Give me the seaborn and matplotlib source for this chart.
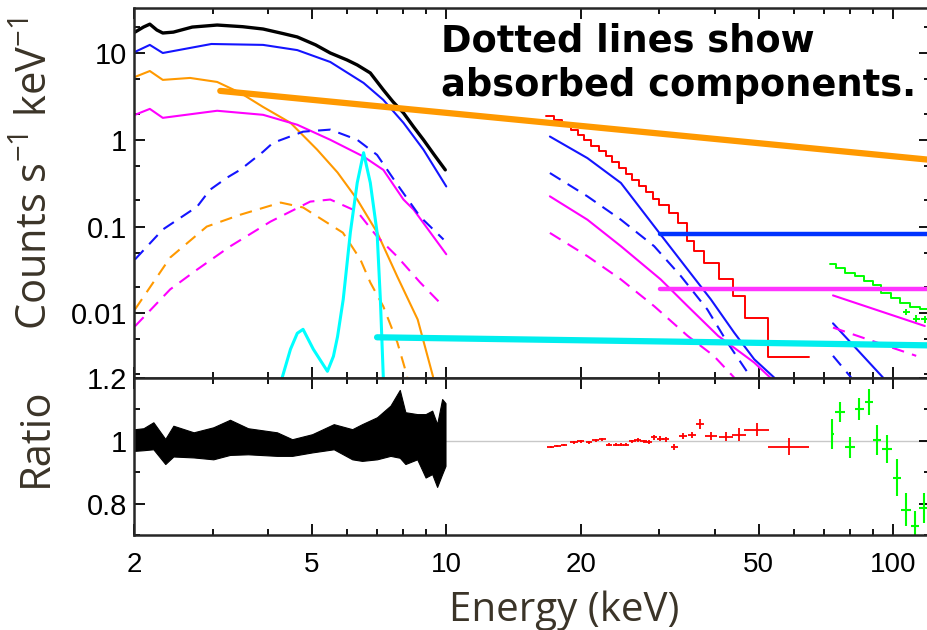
import seaborn as sns
import matplotlib.pyplot as plt
import matplotlib.ticker as ticker

# ---------------- top panel: counts spectra and model components ----------------
# XMM data (black) 2-10 keV
xmm_e = [2.01, 2.10, 2.17, 2.25, 2.32, 2.45, 2.70, 3.07, 3.50, 3.89, 4.30, 4.64, 5.10,
         5.50, 6.00, 6.32, 6.76, 7.23, 7.60, 8.02, 8.45, 8.89, 9.40, 9.95]
xmm_cts = [17.4, 19.9, 21.5, 18.4, 17.0, 17.4, 19.9, 21.0, 20.1, 18.9, 16.8, 15.3, 12.4,
           10.0, 8.3, 7.28, 5.89, 3.76, 2.74, 2.04, 1.41, 1.0, 0.67, 0.45]

# XMM model components (solid = total, dashed = absorbed)
blue_e = [2.01, 2.17, 2.32, 2.98, 3.89, 4.64, 5.50, 6.53, 7.23, 8.02, 8.89, 10.0]
blue_y = [10.3, 12.4, 10.0, 12.7, 12.4, 10.8, 7.88, 4.52, 2.88, 1.57, 0.77, 0.29]
orange_e = [2.01, 2.17, 2.32, 2.67, 3.07, 3.46, 3.89, 4.48, 5.14, 5.71, 6.32, 7.00, 7.77, 8.63, 9.34]
orange_y = [5.3, 6.2, 4.9, 5.16, 4.64, 3.47, 2.39, 1.57, 0.77, 0.42, 0.205, 0.0858, 0.0265, 0.0085, 0.00187]
mag_e = [2.01, 2.17, 2.32, 3.07, 3.89, 4.64, 5.50, 6.53, 7.23, 8.02, 8.45, 10.0]
mag_y = [1.94, 2.27, 1.79, 2.16, 1.94, 1.49, 1.0, 0.64, 0.45, 0.205, 0.157, 0.048]

blue_abs_e = [2.01, 2.32, 2.77, 2.96, 3.23, 3.46, 3.89, 4.09, 4.78, 5.50, 6.32, 7.00, 7.77, 8.74, 9.86]
blue_abs_y = [0.0418, 0.0925, 0.17, 0.266, 0.366, 0.452, 0.728, 0.92, 1.24, 1.31, 1.0, 0.67, 0.305, 0.13, 0.071]
orange_abs_e = [2.01, 2.41, 2.91, 3.46, 4.26, 4.78, 5.87, 6.42, 6.76, 7.23, 7.77, 8.18]
orange_abs_y = [0.0111, 0.044, 0.1, 0.137, 0.189, 0.166, 0.085, 0.042, 0.0227, 0.012, 0.00464, 0.00187]
mag_abs_e = [2.01, 2.41, 2.77, 3.28, 4.04, 4.96, 5.50, 6.32, 7.00, 7.77, 8.74, 9.86]
mag_abs_y = [0.0071, 0.0189, 0.032, 0.059, 0.114, 0.194, 0.205, 0.149, 0.0767, 0.045, 0.0227, 0.012]

# Fe line component (cyan)
fe_e = [4.29, 4.48, 4.64, 4.78, 5.04, 5.42, 5.59, 5.71, 5.88, 6.10, 6.32, 6.53, 6.76, 7.00, 7.12, 7.23]
fe_y = [0.0018, 0.00386, 0.0059, 0.00655, 0.00386, 0.00215, 0.0032, 0.0054, 0.0145, 0.0858,
        0.32, 0.71, 0.32, 0.0858, 0.0145, 0.0018]

# NuSTAR data (red steps)
nu_edges = [16.7, 17.4, 18.2, 19.0, 19.7, 20.35, 21.06, 21.98, 22.75, 23.55, 24.37, 25.23, 26.1,
            27.0, 27.97, 28.95, 29.95, 31.55, 32.94, 34.6, 35.9, 37.7, 40.8, 43.8, 46.6, 52.6, 64.7]
nu_cts = [1.89, 1.67, 1.49, 1.30, 1.14, 1.0, 0.838, 0.734, 0.643, 0.553, 0.472, 0.406, 0.347,
          0.296, 0.248, 0.21, 0.179, 0.1435, 0.110, 0.0678, 0.052, 0.0376, 0.0246, 0.0158,
          0.00893, 0.00315, 0.00315]
nu_blue_e = [17.06, 20.7, 24.6, 30.1, 34.7, 39.1, 44.1, 48.9, 54.2]
nu_blue_y = [1.09, 0.615, 0.318, 0.0824, 0.032, 0.0145, 0.006, 0.00296, 0.00182]
nu_blue_abs_e = [17.06, 20.7, 24.6, 29.2, 33.5, 38.4, 42.6, 48.1]
nu_blue_abs_y = [0.414, 0.223, 0.12, 0.0594, 0.0269, 0.0111, 0.0046, 0.00182]
nu_mag_e = [17.06, 20.7, 24.6, 30.2, 34.7, 40.6, 48.9, 53.1]
nu_mag_y = [0.223, 0.12, 0.0594, 0.0246, 0.0121, 0.0055, 0.00271, 0.00182]
nu_mag_abs_e = [17.06, 20.7, 24.6, 29.2, 34.7, 39.7, 44.1]
nu_mag_abs_y = [0.0845, 0.0456, 0.0246, 0.0121, 0.0055, 0.00324, 0.00182]

# BAT data (green steps) and its model components
bat_edges = [72.1, 74.6, 77.9, 82.0, 86.3, 90.2, 94.1, 99.1, 103.5, 108.9, 114.7, 120.5]
bat_cts = [0.0366, 0.0335, 0.0294, 0.0269, 0.0235, 0.021, 0.0173, 0.0151, 0.0133, 0.0119, 0.0112, 0.0112]
bat_pt_e = [107.1, 112.7, 117.8]
bat_pt_y = [0.0105, 0.0087, 0.0085]
bat_blue_e = [73.4, 95.0]
bat_blue_y = [0.00767, 0.00182]
bat_blue_abs_e = [73.4, 80.6]
bat_blue_abs_y = [0.00324, 0.00182]
bat_mag_e = [73.4, 117.8]
bat_mag_y = [0.0161, 0.00715]
bat_mag_abs_e = [73.4, 112.7]
bat_mag_abs_y = [0.00686, 0.00324]

# thick highlight lines
hl_orange_e, hl_orange_y = [3.12, 120.5], [3.66, 0.589]
hl_blue_e, hl_blue_y = [30.1, 121.0], [0.0831, 0.0831]
hl_mag_e, hl_mag_y = [30.1, 121.0], [0.0189, 0.0189]
hl_cyan_e, hl_cyan_y = [7.0, 120.5], [0.0053, 0.00428]

# ---------------- bottom panel: data / model ratio ----------------
xmm_r_e = [2.01, 2.10, 2.21, 2.35, 2.45, 2.72, 3.01, 3.28, 3.60, 4.18, 4.52, 5.01, 5.60,
           6.16, 6.48, 7.00, 7.50, 7.87, 8.10, 8.61, 8.99, 9.30, 9.54, 9.79, 9.96]
xmm_r_lo = [0.968, 0.970, 0.973, 0.926, 0.950, 0.947, 0.941, 0.955, 0.957, 0.952, 0.952, 0.963,
            0.973, 0.941, 0.936, 0.941, 0.952, 0.946, 0.926, 0.941, 0.883, 0.894, 0.853, 0.894, 0.92]
xmm_r_hi = [1.037, 1.040, 1.059, 1.006, 1.048, 1.027, 1.043, 1.067, 1.040, 1.027, 1.005, 1.021,
            1.053, 1.037, 1.053, 1.075, 1.112, 1.162, 1.091, 1.085, 1.085, 1.096, 1.053, 1.133, 1.12]

nu_r_e = [17.13, 17.73, 18.35, 19.32, 20.0, 20.87, 21.61, 22.37, 23.15, 23.97, 24.59, 25.23, 26.11,
          26.8, 27.64, 28.36, 29.2, 30.12, 31.02, 32.38, 33.92, 35.47, 36.96, 39.1, 42.27, 45.29,
          49.6, 58.6]
nu_r = [0.981, 0.984, 0.987, 0.995, 0.998, 0.995, 1.002, 1.005, 0.987, 0.987, 0.987, 0.987, 0.998,
        1.002, 0.998, 0.995, 1.011, 1.007, 1.005, 0.981, 1.016, 1.019, 1.053, 1.014, 1.013, 1.019,
        1.035, 0.981]
nu_r_xerr = [0.3, 0.3, 0.3, 0.35, 0.35, 0.35, 0.4, 0.4, 0.4, 0.4, 0.4, 0.4, 0.45, 0.45, 0.45, 0.5,
             0.5, 0.55, 0.55, 0.6, 0.7, 0.7, 0.7, 1.2, 1.5, 1.6, 3.1, 6.2]
nu_r_yerr = [0.004, 0.004, 0.004, 0.005, 0.005, 0.005, 0.005, 0.005, 0.005, 0.005, 0.005, 0.005,
             0.006, 0.006, 0.006, 0.006, 0.008, 0.008, 0.008, 0.009, 0.01, 0.01, 0.016, 0.013,
             0.014, 0.021, 0.021, 0.027]

bat_r_e = [73.1, 76.2, 80.2, 84.1, 88.3, 92.2, 97.1, 102.1, 107.1, 112.2, 117.3]
bat_r = [1.021, 1.091, 0.979, 1.101, 1.123, 1.002, 0.973, 0.883, 0.781, 0.728, 0.785]
bat_r_xerr = [0.5, 2.0, 2.1, 1.8, 1.9, 2.0, 2.5, 2.2, 2.8, 2.4, 3.0]
bat_r_yerr = [0.048, 0.032, 0.034, 0.035, 0.041, 0.048, 0.045, 0.059, 0.053, 0.048, 0.048]

# ---------------- style ----------------
sns.set_style('ticks')
plt.rcParams['font.family'] = ['Liberation Sans', 'DejaVu Sans']
plt.rcParams['mathtext.default'] = 'regular'

BLUE = '#1414ff'
ORANGE = '#ff9900'
MAG = '#ff00ff'
CYAN = '#00ffff'
RED = '#ff0000'
GREEN = '#00ff00'
TXT = '#3b3428'
DASH = (0, (6, 4))

fig = plt.figure(figsize=(9.28, 6.3), dpi=100)
ax = fig.add_axes([134 / 928, 1 - 378 / 630, 796 / 928, 370 / 630])
axr = fig.add_axes([134 / 928, 1 - 535 / 630, 796 / 928, 157 / 630], sharex=ax)

ax.set_xscale('log')
ax.set_yscale('log')

def line(a, x, y, c, lw=1.5, ls='-', **kw):
    sns.lineplot(x=x, y=y, ax=a, color=c, lw=lw, linestyle=ls, sort=False,
                 estimator=None, legend=False, **kw)

line(ax, xmm_e, xmm_cts, 'black', lw=2.4)
line(ax, blue_e, blue_y, BLUE)
line(ax, orange_e, orange_y, ORANGE)
line(ax, mag_e, mag_y, MAG)
line(ax, blue_abs_e, blue_abs_y, BLUE, ls=DASH)
line(ax, orange_abs_e, orange_abs_y, ORANGE, ls=DASH)
line(ax, mag_abs_e, mag_abs_y, MAG, ls=DASH)
line(ax, fe_e, fe_y, CYAN, lw=2.2)

line(ax, nu_edges, nu_cts, RED, lw=1.4, drawstyle='steps-post')
line(ax, nu_blue_e, nu_blue_y, BLUE)
line(ax, nu_blue_abs_e, nu_blue_abs_y, BLUE, ls=DASH)
line(ax, nu_mag_e, nu_mag_y, MAG)
line(ax, nu_mag_abs_e, nu_mag_abs_y, MAG, ls=DASH)

line(ax, bat_edges, bat_cts, GREEN, lw=1.4, drawstyle='steps-post')
ax.errorbar(bat_pt_e, bat_pt_y, xerr=2.0, yerr=[[0.0008] * 3, [0.0008] * 3],
            fmt='none', ecolor=GREEN, elinewidth=1.4)
line(ax, bat_blue_e, bat_blue_y, BLUE)
line(ax, bat_blue_abs_e, bat_blue_abs_y, BLUE, ls=DASH)
line(ax, bat_mag_e, bat_mag_y, MAG)
line(ax, bat_mag_abs_e, bat_mag_abs_y, MAG, ls=DASH)

line(ax, hl_orange_e, hl_orange_y, ORANGE, lw=4.5, zorder=5)
line(ax, hl_blue_e, hl_blue_y, '#0033ff', lw=3.2, zorder=5)
line(ax, hl_mag_e, hl_mag_y, '#ff33ff', lw=3.2, zorder=5)
line(ax, hl_cyan_e, hl_cyan_y, '#00eeee', lw=4.5, zorder=5)

# ratio panel
axr.axhline(1.0, color='#c8c8c8', lw=1, zorder=0)
axr.fill_between(xmm_r_e, xmm_r_lo, xmm_r_hi, color='black', lw=0.8)
axr.errorbar(nu_r_e, nu_r, xerr=nu_r_xerr, yerr=nu_r_yerr, fmt='none', ecolor=RED, elinewidth=1.3)
axr.errorbar(bat_r_e, bat_r, xerr=bat_r_xerr, yerr=bat_r_yerr, fmt='none', ecolor=GREEN, elinewidth=1.5)

# axes formatting
ax.set_xlim(2, 121)
ax.set_ylim(0.0018, 33)
axr.set_ylim(0.7, 1.2)

ax.set_yticks([0.01, 0.1, 1, 10], labels=['0.01', '0.1', '1', '10'])
ax.set_yticks([0.002, 0.005, 0.02, 0.05, 0.2, 0.5, 2, 5, 20], minor=True)
ax.yaxis.set_minor_formatter(ticker.NullFormatter())
axr.set_yticks([0.8, 1.0, 1.2], labels=['0.8', '1', '1.2'])
axr.set_yticks([0.7, 0.9, 1.1], minor=True)
axr.set_xticks([2, 5, 10, 20, 50, 100], labels=['2', '5', '10', '20', '50', '100'])
axr.set_xticks([3, 4, 6, 7, 8, 9, 30, 40, 60, 70, 80, 90], minor=True)
axr.xaxis.set_minor_formatter(ticker.NullFormatter())
ax.tick_params(axis='x', which='both', labelbottom=False)

for a in (ax, axr):
    a.set_xlabel('')
    a.set_ylabel('')
    a.tick_params(which='both', direction='in', top=True, right=True, width=1.3,
                  labelsize=20, colors='black')
    a.tick_params(which='major', length=8)
    a.tick_params(which='minor', length=4)
    a.tick_params(axis='y', pad=5, labelsize=21)
    a.tick_params(axis='x', pad=12)
    for s in a.spines.values():
        s.set_linewidth(1.8)

fig.text(0.039, 1 - 174 / 630, 'Counts s$^{-1}$ keV$^{-1}$', rotation=90, ha='center',
         va='center', fontsize=30, color=TXT, family='Open Sans')
fig.text(0.039, 1 - 437 / 630, 'Ratio', rotation=90, ha='center', va='center',
         fontsize=30, color=TXT, family='Open Sans')
fig.text(564 / 928, 9 / 630, 'Energy (keV)', ha='center', va='baseline',
         fontsize=29, color=TXT, family='Open Sans')

fig.text(441 / 928, 1 - 51 / 630, 'Dotted lines show', ha='left', va='baseline',
         fontsize=26.5, fontweight='bold', color='black', family='DejaVu Sans')
fig.text(441 / 928, 1 - 96 / 630, 'absorbed components.', ha='left', va='baseline',
         fontsize=26.5, fontweight='bold', color='black', family='DejaVu Sans')

fig.savefig('out.png', dpi=100)
